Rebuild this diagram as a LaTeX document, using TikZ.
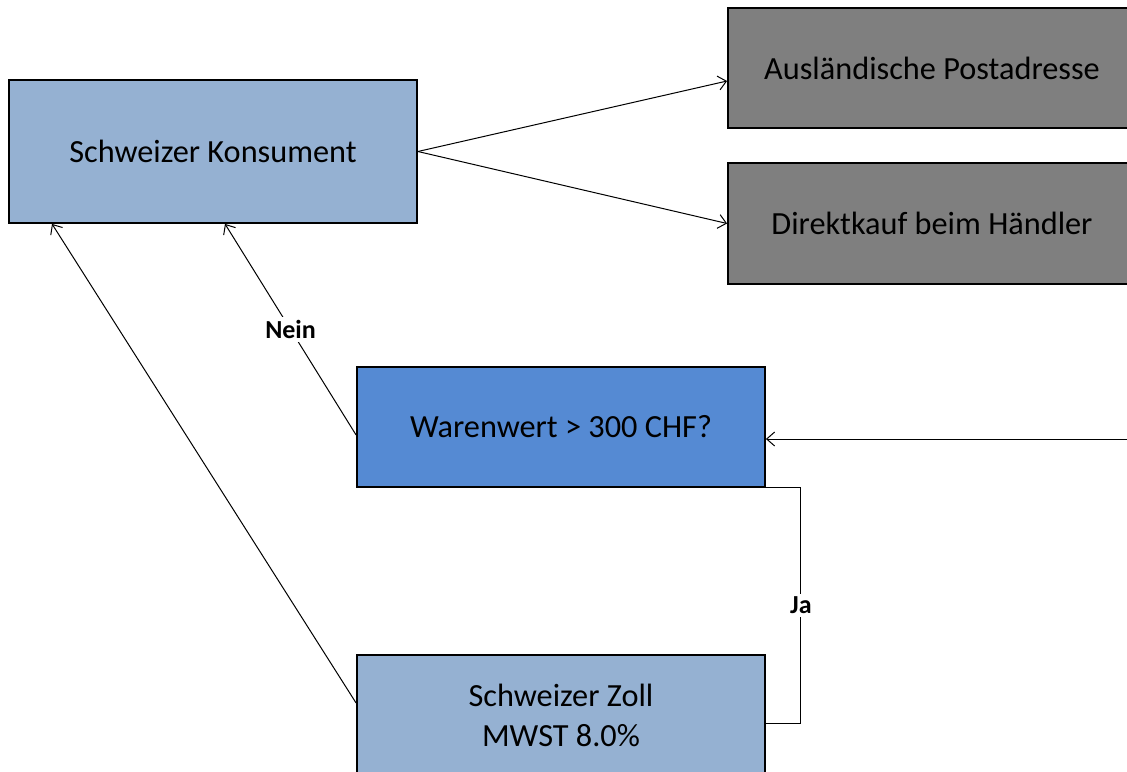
\documentclass[tikz,border=0pt]{standalone}
\usepackage{fontspec}
\setmainfont{Carlito}
\usetikzlibrary{arrows.meta}
\definecolor{lightblue}{HTML}{95B1D2}
\definecolor{midblue}{HTML}{558AD3}
\definecolor{greybox}{HTML}{7F7F7F}
\begin{document}
\begin{tikzpicture}[x=1pt,y=-1pt,
  box/.style={draw=black, line width=1.8pt, minimum width=408pt, minimum height=120pt, inner sep=0pt,
    align=center, font=\fontsize{32.3}{40}\selectfont, text=black},
  conn/.style={draw=black, line width=1pt, -{Straight Barb[length=8pt,width=14pt,line width=1pt]}},
  plain/.style={draw=black, line width=1pt},
  lab/.style={fill=white, inner sep=3pt, font=\fontsize{26}{30}\selectfont\bfseries}]
\useasboundingbox (0,0) rectangle (1127,771);
\clip (0,0) rectangle (1127,771);
\node[box, fill=lightblue, minimum height=143pt] (kons) at (213,151.5) {Schweizer Konsument};
\node[box, fill=greybox] (ausl) at (932,68) {Ausländische Postadresse};
\node[box, fill=greybox, minimum height=121pt] (direkt) at (932,223.5) {Direktkauf beim Händler};
\node[box, fill=midblue] (waren) at (561,427) {Warenwert > 300 CHF?};
\node[box, fill=lightblue] (zoll) at (561,715) {Schweizer Zoll\\MWST 8.0\%};
\coordinate (in) at (1127,439);
\coordinate (jz) at ([yshift=-8pt]zoll.east);
\draw[conn] (kons.east) -- ([yshift=-13pt]ausl.west);
\draw[conn] (kons.east) -- (direkt.west);
\draw[conn] ([yshift=-8pt]waren.west) -- node[lab]{Nein} ([xshift=12pt]kons.south);
\draw[conn] ([yshift=12pt]zoll.west) -- ([xshift=-161pt]kons.south);
\draw[conn] (in) -- (in -| waren.east);
\draw[plain] (waren.south east) -- ++(35,0) coordinate (jc) -- node[lab]{Ja} (jc |- jz) -- (jz);
\end{tikzpicture}
\end{document}
